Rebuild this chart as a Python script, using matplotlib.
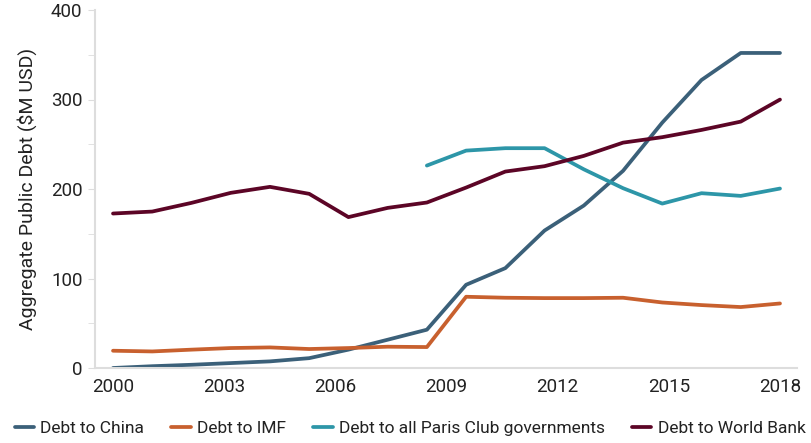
import matplotlib
matplotlib.use('Agg')
import matplotlib.pyplot as plt
import numpy as np

plt.rcParams['font.family'] = ['Roboto', 'DejaVu Sans']

years = np.arange(2000, 2018)

china = [0, 2, 3.6, 5.5, 7.4, 11, 20.5, 31.6, 42.8, 93, 111.6, 153.6, 181.5,
         220.3, 274.2, 321.8, 352, 352]
imf = [19.3, 18.5, 20.5, 22.3, 23, 21.2, 22.3, 23.8, 23.4, 79.6, 78.5, 78.1,
       78.1, 78.5, 73.2, 70.3, 68.1, 72.1]
paris = [np.nan] * 8 + [226.2, 242.9, 245.6, 245.6, 222, 200.9, 183.7, 195.3,
                        192.3, 200.5]
world_bank = [172.6, 174.8, 184.5, 195.7, 202.4, 194.6, 168.6, 178.9, 184.9,
              201.6, 219.5, 225.5, 237, 251.8, 257.9, 266, 275.3, 299.9]

series = [
    ('Debt to China', china, '#3b6079'),
    ('Debt to IMF', imf, '#c8602e'),
    ('Debt to all Paris Club governments', paris, '#2d96a8'),
    ('Debt to World Bank', world_bank, '#5c0526'),
]

tick_years = [2000, 2003, 2006, 2009, 2012, 2015, 2018]

# the points are spread evenly across the 2000-2018 axis
x = 2000 + (years - 2000) * 18 / 17

fig = plt.figure(figsize=(8.12, 4.43), dpi=100)
ax = fig.add_axes([95/812, 1 - 368/443, 702/812, 358/443])

for name, vals, col in series:
    ax.plot(x, vals, color=col, lw=2.7, label=name, solid_capstyle='round')

ax.set_xlim(2000 - 18/37, 2018 + 17/37)
ax.set_ylim(0, 400)
ax.set_xticks(tick_years)
ax.set_xticklabels([str(t) for t in tick_years], fontsize=13.5, color='#222222')
ax.set_yticks(np.arange(0, 401, 100))
ax.set_yticks(np.arange(50, 400, 100), minor=True)
ax.tick_params(axis='y', which='both', length=5, color='#dddddd', labelsize=13.5,
               labelcolor='#222222', pad=4)
ax.tick_params(axis='x', length=0, pad=7)
ax.set_ylabel('Aggregate Public Debt ($M USD)', fontsize=14, color='#222222',
              labelpad=10)

for s in ['top', 'right']:
    ax.spines[s].set_visible(False)
for s in ['left', 'bottom']:
    ax.spines[s].set_color('#dddddd')
    ax.spines[s].set_linewidth(1.5)

fig.legend(loc='lower center', bbox_to_anchor=(0.505, -0.02), ncol=4,
           frameon=False, fontsize=12.5, handlelength=1.1, handletextpad=0.35,
           columnspacing=1.6, labelcolor='#222222')

fig.savefig('out.png', dpi=100)
